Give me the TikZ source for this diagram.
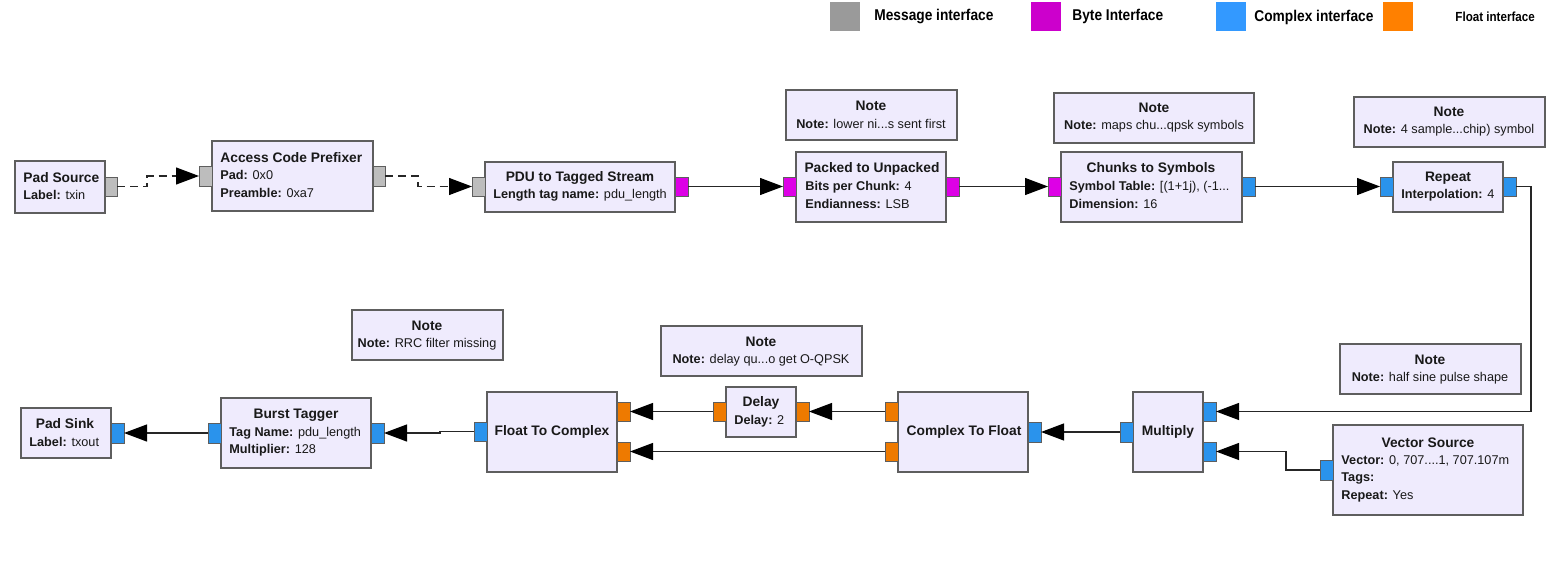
\documentclass[tikz,border=0pt]{standalone}
\usepackage{fontspec}
\setmainfont{Liberation Sans}
\newfontfamily\legfont[FakeStretch=0.88]{Liberation Sans}
\usetikzlibrary{arrows.meta}
\definecolor{blkfill}{HTML}{EFEBFD}
\definecolor{blkdraw}{HTML}{5E5E5E}
\definecolor{msgc}{HTML}{BDBDBD}
\definecolor{bytec}{HTML}{DD00E6}
\definecolor{cplxc}{HTML}{2A93EC}
\definecolor{floatc}{HTML}{EE7A00}
\definecolor{lgray}{HTML}{9A9A9A}
\definecolor{lbyte}{HTML}{CC00CC}
\definecolor{lcplx}{HTML}{3399FF}
\definecolor{lfloat}{HTML}{FF8000}
\newcommand{\ttl}[1]{{\fontsize{6.9pt}{8pt}\selectfont\bfseries #1}}
\tikzset{
  block/.style={draw=blkdraw, fill=blkfill, line width=0.6pt, rectangle, inner sep=0pt, outer sep=0pt},
  port/.style={draw=blkdraw, line width=0.5pt, rectangle, inner sep=0pt, outer sep=0pt},
  legsq/.style={rectangle, inner sep=0pt, outer sep=0pt, minimum width=15pt, minimum height=14.5pt, anchor=north west},
  txt/.style={inner sep=0pt, font=\fontsize{6.35pt}{8pt}\selectfont, text=black!90},
  ltxt/.style={txt, anchor=west},
  ctxt/.style={txt, anchor=center},
  legtxt/.style={inner sep=0pt, anchor=west, font=\legfont\fontsize{7.8pt}{9pt}\selectfont\bfseries},
  conn/.style={draw=black!85, line width=0.6pt, -{Triangle[length=11.5pt,width=8.5pt,fill=black,color=black]}},
  dconn/.style={conn, dash pattern=on 4pt off 2.5pt},
}
\newcommand{\blk}[5]{\node[block, anchor=north west, minimum width={(#4-#2)*0.5pt}, minimum height={(#5-#3)*0.5pt}] (#1) at (#2,#3) {};}
\newcommand{\prt}[6]{\node[port, fill=#6, anchor=north west, minimum width={(#4-#2)*0.5pt}, minimum height={(#5-#3)*0.5pt}] (#1) at (#2,#3) {};}
\begin{document}
\begin{tikzpicture}[x=0.5pt,y=-0.5pt]
\useasboundingbox (0,0) rectangle (1566,567);
% legend
\node[legsq, fill=lgray] (lg1) at (830,2) {};
\node[legtxt] (lt1) at (874,17) {Message interface};
\node[legsq, fill=lbyte] (lg2) at (1031,2) {};
\node[legtxt] (lt2) at (1072,16) {Byte Interface};
\node[legsq, fill=lcplx] (lg3) at (1216,2) {};
\node[legtxt] (lt3) at (1254,17) {Complex interface};
\node[legsq, fill=lfloat] (lg4) at (1383,2) {};
\node[legtxt, font=\legfont\fontsize{6.6pt}{7pt}\selectfont\bfseries] (lt4) at (1455,17) {Float interface};

% Pad Source
\blk{ps}{15}{161}{105}{213}
\prt{pso}{105}{177}{117}{196}{msgc}
\node[ltxt] (pst1) at (23,178) {\ttl{Pad Source}};
\node[ltxt] (pst2) at (23,195) {\textbf{Label:} txin};

% Access Code Prefixer
\blk{acp}{212}{141}{373}{211}
\prt{acpi}{199}{166}{212}{186}{msgc}
\prt{acpo}{373}{166}{385}{186}{msgc}
\node[ltxt] (acpt1) at (220,158) {\ttl{Access Code Prefixer}};
\node[ltxt] (acpt2) at (220,175) {\textbf{Pad:} 0x0};
\node[ltxt] (acpt3) at (220,193) {\textbf{Preamble:} 0xa7};

% PDU to Tagged Stream
\blk{pdu}{485}{162}{675}{212}
\prt{pdui}{472}{177}{485}{196}{msgc}
\prt{pduo}{675}{177}{688}{196}{bytec}
\node[ctxt] (pdut1) at (580,178) {\ttl{PDU to Tagged Stream}};
\node[ltxt] (pdut2) at (493,195) {\textbf{Length tag name:} pdu\_length};

% Note 1
\blk{n1}{786}{90}{957}{140}
\node[ctxt] (n1t1) at (871,106) {\ttl{Note}};
\node[ctxt] (n1t2) at (871,124) {\textbf{Note:} lower ni...s sent first};

% Packed to Unpacked
\blk{p2u}{796}{152}{946}{222}
\prt{p2ui}{783}{177}{796}{196}{bytec}
\prt{p2uo}{946}{177}{959}{196}{bytec}
\node[ctxt] (p2ut1) at (872,169) {\ttl{Packed to Unpacked}};
\node[ltxt] (p2ut2) at (805,187) {\textbf{Bits per Chunk:} 4};
\node[ltxt] (p2ut3) at (805,204) {\textbf{Endianness:} LSB};

% Note 2
\blk{n2}{1054}{93}{1254}{143}
\node[ctxt] (n2t1) at (1154,108) {\ttl{Note}};
\node[ctxt] (n2t2) at (1154,126) {\textbf{Note:} maps chu...qpsk symbols};

% Chunks to Symbols
\blk{cs}{1061}{152}{1242}{222}
\prt{csi}{1048}{177}{1061}{196}{bytec}
\prt{cso}{1242}{177}{1255}{196}{cplxc}
\node[ctxt] (cst1) at (1151,169) {\ttl{Chunks to Symbols}};
\node[ltxt] (cst2) at (1069,187) {\textbf{Symbol Table:} [(1+1j), (-1...};
\node[ltxt] (cst3) at (1069,204) {\textbf{Dimension:} 16};

% Note 3
\blk{n3}{1354}{97}{1545}{147}
\node[ctxt] (n3t1) at (1449,112) {\ttl{Note}};
\node[ctxt] (n3t2) at (1449,130) {\textbf{Note:} 4 sample...chip) symbol};

% Repeat
\blk{rep}{1393}{162}{1503}{212}
\prt{repi}{1380}{177}{1393}{196}{cplxc}
\prt{repo}{1503}{177}{1516}{196}{cplxc}
\node[ctxt] (rept1) at (1448,178) {\ttl{Repeat}};
\node[ltxt] (rept2) at (1401,195) {\textbf{Interpolation:} 4};

% Note 4
\blk{n4}{1340}{344}{1521}{394}
\node[ctxt] (n4t1) at (1430,360) {\ttl{Note}};
\node[ctxt] (n4t2) at (1430,378) {\textbf{Note:} half sine pulse shape};

% Multiply
\blk{mul}{1133}{392}{1203}{472}
\prt{mulo}{1120}{422}{1133}{442}{cplxc}
\prt{muli1}{1203}{402}{1216}{421}{cplxc}
\prt{muli2}{1203}{442}{1216}{461}{cplxc}
\node[ctxt] (mult) at (1168,432) {\ttl{Multiply}};

% Vector Source
\blk{vs}{1333}{425}{1523}{515}
\prt{vso}{1320}{460}{1333}{480}{cplxc}
\node[ctxt] (vst1) at (1428,443) {\ttl{Vector Source}};
\node[ltxt] (vst2) at (1341,461) {\textbf{Vector:} 0, 707....1, 707.107m};
\node[ltxt] (vst3) at (1341,478) {\textbf{Tags:}};
\node[ltxt] (vst4) at (1341,496) {\textbf{Repeat:} Yes};

% Complex To Float
\blk{c2f}{898}{392}{1028}{472}
\prt{c2fi}{1028}{422}{1041}{442}{cplxc}
\prt{c2fo1}{885}{402}{898}{421}{floatc}
\prt{c2fo2}{885}{442}{898}{461}{floatc}
\node[ctxt] (c2ft) at (964,432) {\ttl{Complex To Float}};

% Note 5
\blk{n5}{661}{326}{862}{376}
\node[ctxt] (n5t1) at (761,342) {\ttl{Note}};
\node[ctxt] (n5t2) at (761,360) {\textbf{Note:} delay qu...o get O-QPSK};

% Delay
\blk{dly}{726}{387}{796}{437}
\prt{dlyo}{713}{402}{726}{421}{floatc}
\prt{dlyi}{796}{402}{809}{421}{floatc}
\node[ctxt] (dlyt1) at (761,403) {\ttl{Delay}};
\node[ltxt] (dlyt2) at (734,421) {\textbf{Delay:} 2};

% Float To Complex
\blk{f2c}{487}{392}{617}{472}
\prt{f2co}{474}{422}{487}{441}{cplxc}
\prt{f2ci1}{617}{402}{630}{421}{floatc}
\prt{f2ci2}{617}{442}{630}{461}{floatc}
\node[ctxt] (f2ct) at (552,432) {\ttl{Float To Complex}};

% Note 6
\blk{n6}{352}{310}{503}{360}
\node[ctxt] (n6t1) at (427,326) {\ttl{Note}};
\node[ctxt] (n6t2) at (427,344) {\textbf{Note:} RRC filter missing};

% Burst Tagger
\blk{bt}{221}{398}{371}{468}
\prt{bto}{208}{423}{221}{443}{cplxc}
\prt{bti}{371}{423}{384}{443}{cplxc}
\node[ctxt] (btt1) at (296,415) {\ttl{Burst Tagger}};
\node[ltxt] (btt2) at (229,433) {\textbf{Tag Name:} pdu\_length};
\node[ltxt] (btt3) at (229,450) {\textbf{Multiplier:} 128};

% Pad Sink
\blk{psk}{21}{408}{111}{458}
\prt{pski}{111}{423}{124}{443}{cplxc}
\node[ctxt] (pskt1) at (65,424) {\ttl{Pad Sink}};
\node[ltxt] (pskt2) at (29,442) {\textbf{Label:} txout};

% connections
\draw[dconn] (pso.east) -- ++(30,0) |- (acpi.west);
\draw[dconn] (acpo.east) -- ++(33,0) |- (pdui.west);
\draw[conn] (pduo.east) -- (p2ui.west);
\draw[conn] (p2uo.east) -- (csi.west);
\draw[conn] (cso.east) -- (repi.west);
\draw[conn] (repo.east) -- ++(15,0) |- (muli1.east);
\draw[conn] (vso.west) -- ++(-34,0) |- (muli2.east);
\draw[conn] (mulo.west) -- (c2fi.east);
\draw[conn] (c2fo1.west) -- (dlyi.east);
\draw[conn] (dlyo.west) -- (f2ci1.east);
\draw[conn] (c2fo2.west) -- (f2ci2.east);
\draw[conn] (f2co.west) -- ++(-34,0) |- (bti.east);
\draw[conn] (bto.west) -- (pski.east);
\end{tikzpicture}
\end{document}
